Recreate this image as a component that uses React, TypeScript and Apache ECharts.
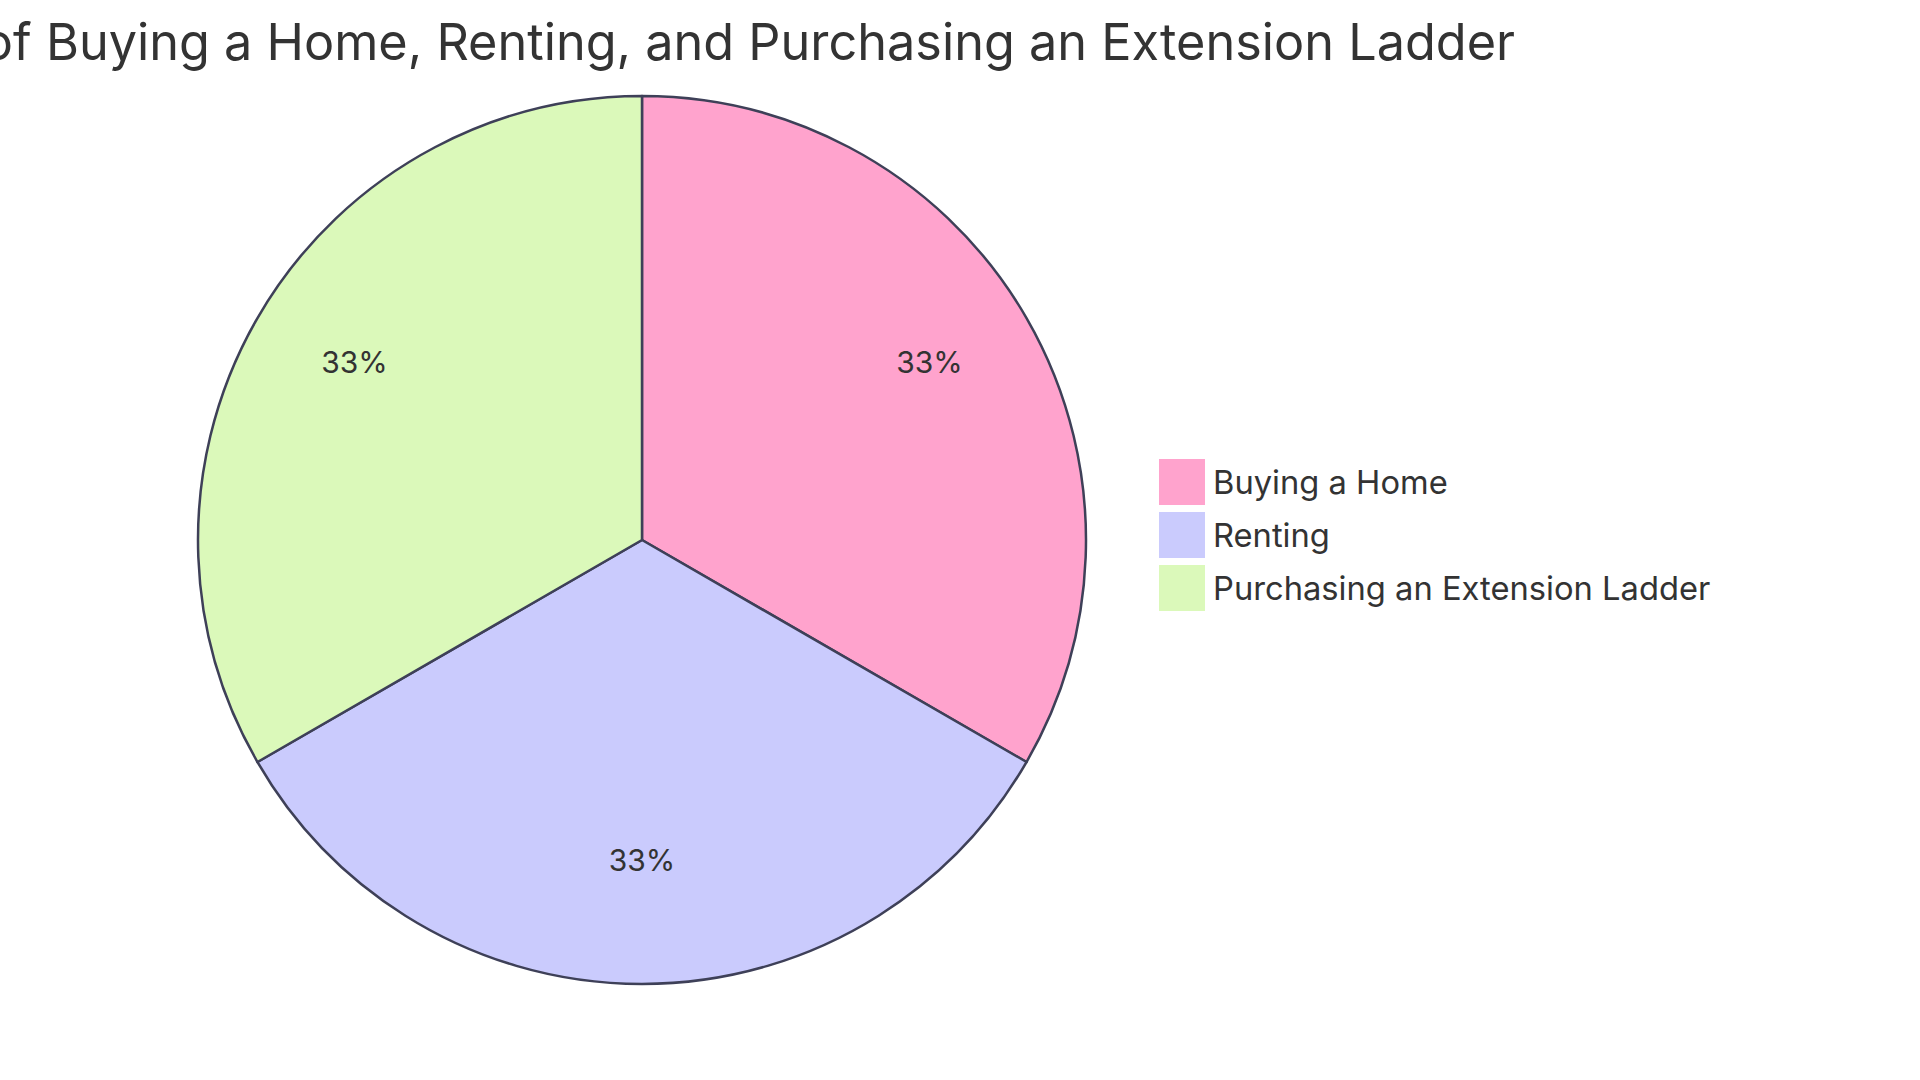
import React, { useEffect, useRef } from 'react';
import * as echarts from 'echarts';

// 饼图数据
const titleText = 'Comparison of Buying a Home, Renting, and Purchasing an Extension Ladder';
const categories = ['Buying a Home', 'Renting', 'Purchasing an Extension Ladder'];
const values = [1, 1, 1];
const colors = ['#FFA3CD', '#CACBFD', '#DBF9BA'];

const FONT = 'Inter, "Noto Sans", sans-serif';
const STROKE = '#3E4058';
const TEXT = '#333333';

const App: React.FC = () => {
  const chartRef = useRef<HTMLDivElement>(null);

  useEffect(() => {
    document.body.style.margin = '0';
    if (!chartRef.current) return;
    const chart = echarts.init(chartRef.current, null, { renderer: 'svg' });

    const data = categories.map((name, i) => ({
      name,
      value: values[i],
      itemStyle: { color: colors[i] }
    }));

    const option = {
      animation: false,
      backgroundColor: '#ffffff',
      title: {
        text: titleText,
        left: 1515,
        top: 16,
        textAlign: 'right',
        padding: 0,
        textStyle: {
          fontFamily: FONT,
          fontSize: 50.4,
          fontWeight: 'normal',
          color: TEXT
        }
      },
      legend: {
        orient: 'vertical',
        left: 1159,
        top: 459,
        padding: 0,
        icon: 'rect',
        itemWidth: 46,
        itemHeight: 46,
        itemGap: 7,
        itemStyle: { borderWidth: 0 },
        data: categories,
        textStyle: {
          fontFamily: FONT,
          fontSize: 32.7,
          color: TEXT,
          padding: [0, 0, 0, 3]
        }
      },
      series: [
        {
          name: 'pie',
          type: 'pie',
          center: [642, 540],
          radius: [0, 444],
          startAngle: 90,
          clockwise: true,
          silent: true,
          label: { show: false },
          labelLine: { show: false },
          itemStyle: { borderColor: STROKE, borderWidth: 2.5 },
          data
        },
        {
          // 透明覆盖层，只用于放置百分比标签（约 0.75 半径，文字基线落在该点）
          name: 'labels',
          type: 'pie',
          center: [642, 528],
          radius: [214, 444],
          startAngle: 90,
          clockwise: true,
          silent: true,
          itemStyle: { color: 'transparent', borderWidth: 0 },
          labelLine: { show: false },
          label: {
            show: true,
            position: 'inside',
            fontFamily: FONT,
            fontSize: 30,
            color: TEXT,
            formatter: (p: any) => `${Math.round(p.percent)}%`
          },
          data: categories.map((name, i) => ({ name, value: values[i] }))
        }
      ]
    };

    chart.setOption(option);
    return () => {
      chart.dispose();
    };
  }, []);

  return <div ref={chartRef} style={{ width: '1920px', height: '1080px' }} />;
};

export default App;
